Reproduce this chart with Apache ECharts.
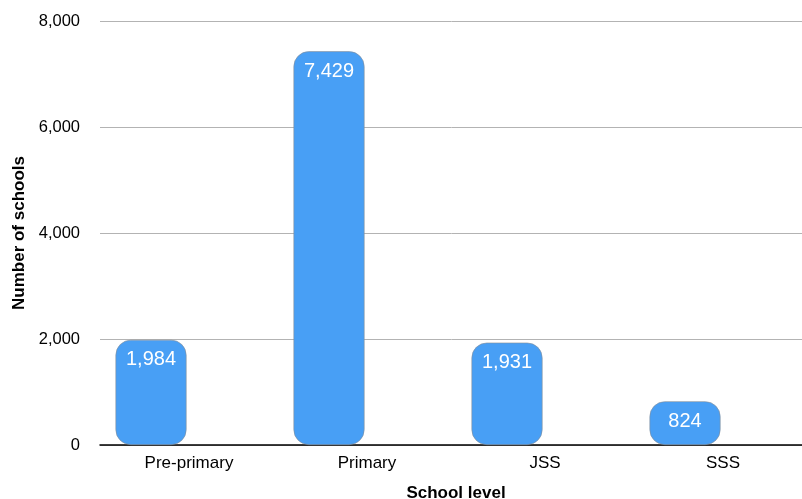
<!DOCTYPE html>
<html>
<head>
<meta charset="utf-8">
<script src="https://cdn.jsdelivr.net/npm/echarts@6/dist/echarts.min.js"></script>
<style>
  html, body { margin: 0; padding: 0; background: #fff; }
  #chart { width: 802px; height: 499px; }
</style>
</head>
<body>
<div id="chart"></div>
<script>
// chart data
const levels = ["Pre-primary", "Primary", "JSS", "SSS"];
const schoolCounts = [1984, 7429, 1931, 824];
const emptySlot = ["-", "-", "-", "-"];   // second (empty) slot in each group

const fontFamily = "'Liberation Sans', Arial, Helvetica, sans-serif";

let chart = echarts.init(document.getElementById("chart"));
chart.setOption({
  animation: false,
  grid: {
    left: 100,
    right: -10,
    top: 21,
    bottom: 54,
    containLabel: false,
    outerBoundsMode: "none"
  },
  xAxis: {
    type: "category",
    data: levels,
    name: "School level",
    nameLocation: "middle",
    nameGap: 40,
    nameTextStyle: { fontFamily: fontFamily, fontSize: 17, fontWeight: "bold", color: "#000" },
    axisLine: { lineStyle: { color: "#000", width: 1.5 } },
    axisTick: { show: false },
    axisLabel: { fontFamily: fontFamily, fontSize: 17, color: "#000", margin: 10 }
  },
  yAxis: {
    type: "value",
    min: 0,
    max: 8000,
    interval: 2000,
    name: "Number of schools",
    nameLocation: "middle",
    nameGap: 72,
    nameTextStyle: { fontFamily: fontFamily, fontSize: 17, fontWeight: "bold", color: "#000" },
    axisLine: { show: false },
    axisTick: { show: false },
    axisLabel: {
      fontFamily: fontFamily, fontSize: 16.5, color: "#000", margin: 20,
      formatter: (v) => v.toLocaleString("en-US")
    },
    splitLine: { lineStyle: { color: "#b3b3b3", width: 1 } }
  },
  series: [
    {
      type: "bar",
      data: schoolCounts,
      barWidth: 71,
      barGap: "7%",
      itemStyle: {
        color: "#489ff5",
        borderColor: "#8a8f96",
        borderWidth: 0.6,
        borderRadius: 15
      },
      label: {
        show: true,
        position: "insideTop",
        distance: 10,
        color: "#fff",
        fontFamily: fontFamily,
        fontSize: 20,
        formatter: (p) => p.value.toLocaleString("en-US")
      }
    },
    {
      type: "bar",
      data: emptySlot,
      barWidth: 71,
      silent: true
    }
  ]
});
</script>
</body>
</html>
